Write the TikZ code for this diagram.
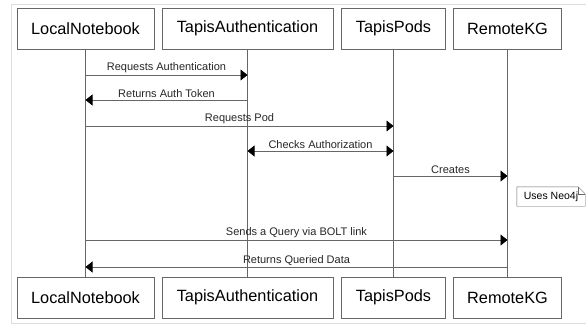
\documentclass[tikz,border=0pt]{standalone}
\usepackage{fontspec}
\setmainfont{Liberation Sans}
\usepackage{xcolor}
\usetikzlibrary{arrows.meta,positioning,calc}
\definecolor{lineGray}{HTML}{666666}
\definecolor{frameGray}{HTML}{DDDDDD}
\begin{document}
\begin{tikzpicture}[
        x=1pt,y=-1pt,
        font=\fontsize{11}{13}\selectfont,
        actor/.style={rectangle,draw=lineGray,thick,fill=white,minimum height=41pt,inner sep=0pt,align=center,font=\fontsize{16.3}{19}\selectfont},
        lifeline/.style={draw=lineGray,thick},
        msg/.style={draw=lineGray,thick,-{Triangle[length=7pt,width=11pt,color=black]}},
        twoway/.style={draw=lineGray,thick,{Triangle[length=7pt,width=11pt,color=black]}-{Triangle[length=7pt,width=11pt,color=black]}},
        lbl/.style={above,inner sep=1.5pt,text=black!85},
        notebox/.style={minimum width=68pt,minimum height=19pt,inner sep=0pt,font=\fontsize{10.5}{12}\selectfont}
    ]
        \useasboundingbox (0,0) rectangle (586,324);
        \draw[frameGray] (11,323) -- (11,4) -- (586,4);
        \draw[frameGray] (11,323) -- (586,323);

        % participants, top row
        \node[actor,minimum width=137pt] (lnTop) at (85.5,28.5) {LocalNotebook};
        \node[actor,minimum width=171pt] (taTop) at (247.5,28.5) {TapisAuthentication};
        \node[actor,minimum width=104pt] (tpTop) at (393.5,28.5) {TapisPods};
        \node[actor,minimum width=108pt] (kgTop) at (507.5,28.5) {RemoteKG};
        % participants, bottom row
        \node[actor,minimum width=137pt] (lnBot) at (85.5,297.5) {LocalNotebook};
        \node[actor,minimum width=171pt] (taBot) at (247.5,297.5) {TapisAuthentication};
        \node[actor,minimum width=104pt] (tpBot) at (393.5,297.5) {TapisPods};
        \node[actor,minimum width=108pt] (kgBot) at (507.5,297.5) {RemoteKG};

        \draw[lifeline] (lnTop) -- (lnBot);
        \draw[lifeline] (taTop) -- (taBot);
        \draw[lifeline] (tpTop) -- (tpBot);
        \draw[lifeline] (kgTop) -- (kgBot);

        % messages
        \draw[msg] (lnTop.south |- 0,75) -- node[lbl]{Requests Authentication} (taTop.south |- 0,75);
        \draw[msg] (taTop.south |- 0,100) -- node[lbl]{Returns Auth Token} (lnTop.south |- 0,100);
        \draw[msg] (lnTop.south |- 0,126) -- node[lbl]{Requests Pod} (tpTop.south |- 0,126);
        \draw[twoway] (taTop.south |- 0,151) -- node[lbl]{Checks Authorization} (tpTop.south |- 0,151);
        \draw[msg] (tpTop.south |- 0,176) -- node[lbl]{Creates} (kgTop.south |- 0,176);
        \draw[msg] (lnTop.south |- 0,240) -- node[lbl]{Sends a Query via BOLT link} (kgTop.south |- 0,240);
        \draw[msg] (kgTop.south |- 0,267) -- node[lbl]{Returns Queried Data} (lnTop.south |- 0,267);

        % note
        \node[notebox] (neo) at (551,196.5) {Uses Neo4j};
        \draw[lineGray,fill=white] (neo.south west) -- (neo.north west) -- ([xshift=-7pt]neo.north east) -- ([yshift=-7pt]neo.north east) -- (neo.south east) -- cycle;
        \draw[lineGray] ([xshift=-7pt]neo.north east) -- ([xshift=-7pt,yshift=-7pt]neo.north east) -- ([yshift=-7pt]neo.north east);
        \node[notebox] at (neo) {Uses Neo4j};
    \end{tikzpicture}
\end{document}
